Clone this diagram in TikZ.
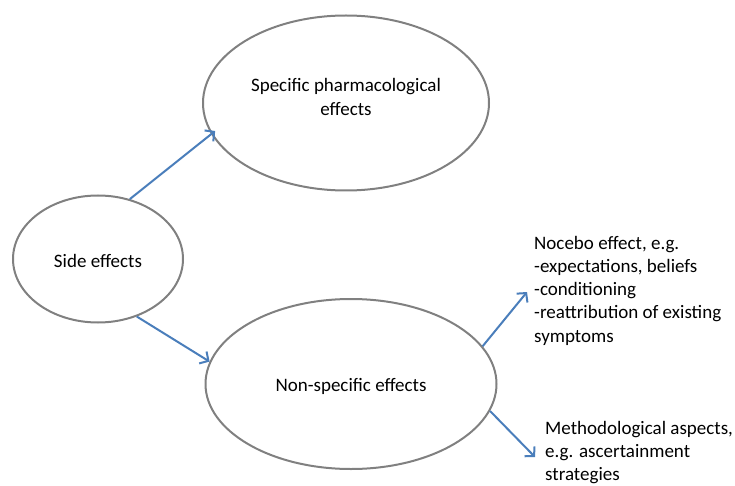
\documentclass[tikz,border=0pt]{standalone}
\usepackage{fontspec}
\setmainfont{Carlito}
\usetikzlibrary{shapes.geometric,arrows.meta}
\definecolor{ringgray}{RGB}{128,128,128}
\definecolor{linkblue}{RGB}{74,126,187}
\tikzset{
  oval/.style={ellipse, draw=ringgray, line width=2pt, inner sep=0pt},
  lbl/.style={font=\fontsize{19}{23.8}\selectfont, text=black, inner sep=0pt, align=center},
  notes/.style={font=\fontsize{19}{23.2}\selectfont, text=black, inner sep=0pt, align=left, anchor=north west},
  link/.style={draw=linkblue, line width=2pt, -{Straight Barb[length=6.5pt,width=14pt,line width=2pt]}}
}
\begin{document}
\begin{tikzpicture}[x=1pt,y=-1pt]
  \useasboundingbox (0,0) rectangle (735,486);
  % the three effect categories
  \node[oval, minimum width=286pt, minimum height=175pt] (spec) at (346,103) {};
  \node[lbl] (spectext) at (346,97) {Specific pharmacological\\effects};
  \node[oval, minimum width=170pt, minimum height=127pt] (side) at (98,259) {};
  \node[lbl] (sidetext) at (98,261) {Side effects};
  \node[oval, minimum width=291pt, minimum height=170pt] (nons) at (351,384) {};
  \node[lbl] (nonstext) at (351,386) {Non-specific effects};
  % explanatory notes on the right
  \node[notes] (nocebo) at (534,236) {Nocebo effect, e.g.\\-expectations, beliefs\\-conditioning\\-reattribution of existing\\symptoms};
  \node[notes] (method) at (545,421) {Methodological aspects,\\e.g. ascertainment\\strategies};
  \coordinate (noceboin) at (527,292);
  \coordinate (methodin) at (535,457);
  % connectors
  \draw[link, shorten >=-5pt] (side.62) -- (spec.193);
  \draw[link] (side.-56) -- (nons.171);
  \draw[link] (nons.16) -- (noceboin);
  \draw[link] (nons.-11) -- (methodin);
\end{tikzpicture}
\end{document}
